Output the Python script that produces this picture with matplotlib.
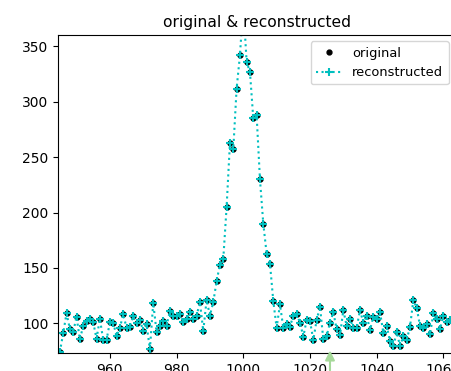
import numpy as np
import matplotlib
matplotlib.use("Agg")
import matplotlib.pyplot as plt


# ===================================================
# DATA
# ===================================================

X_START = 945

original = [
    74, 91, 109, 95, 92, 106, 85.5, 97.5, 102, 104,
    101, 86, 104, 85, 85, 101, 100.5, 88.5, 96, 108,
    96, 97, 106.5, 100, 103, 93, 99, 76.5, 118.5, 92,
    97.5, 102, 98, 111, 106.5, 106.5, 108, 101, 104, 110,
    104, 107, 119, 93, 121, 107, 119, 138, 153, 158,
    205, 263, 257, 312, 342, 388, 336, 327, 285, 288,
    230, 190, 163, 154, 120, 96, 117, 96, 99, 97,
    107, 108.5, 100.5, 88, 103, 102, 85, 103, 115, 85.5,
    88.5, 100.5, 110, 94.5, 89, 112, 97.5, 104, 96, 96,
    112, 100.5, 107, 94, 106, 104, 110, 91.5, 97.5, 84,
    79.5, 92, 79.5, 88.5, 85, 97, 121, 114, 97.5, 96,
    99, 90, 109, 103.5, 95, 107, 101, 103,
]

# reconstruction lies on top of the original points
reconstructed = list(original)

x = np.arange(X_START, X_START + len(original))

ARROW_X = 1026


# ===================================================
# PLOT
# ===================================================

def main():
    fig = plt.figure(figsize=(4.51, 3.71), dpi=100)
    ax = fig.add_axes([0.129, 0.048, 0.88, 0.858])

    ax.plot(x, original, "k.", markersize=7, label="original")
    ax.plot(x, reconstructed, "c+:", markersize=6, markeredgewidth=1.5,
            label="reconstructed")

    ax.set_xlim(944.5, 1063.5)
    ax.set_ylim(73, 360.5)
    ax.set_xticks([960, 980, 1000, 1020, 1040, 1060])
    ax.set_yticks([100, 150, 200, 250, 300, 350])

    ax.set_title("original & reconstructed", fontsize=11.2)
    ax.legend(loc="upper right", fontsize=9.4)

    # marker arrow below the axis
    ax.annotate("", xy=(ARROW_X, 78), xytext=(ARROW_X, 55),
                annotation_clip=False,
                arrowprops=dict(arrowstyle="-|>", color="#a6d99a",
                                lw=1.5, mutation_scale=14))

    fig.savefig("out.png", dpi=100)


if __name__ == "__main__":
    main()
